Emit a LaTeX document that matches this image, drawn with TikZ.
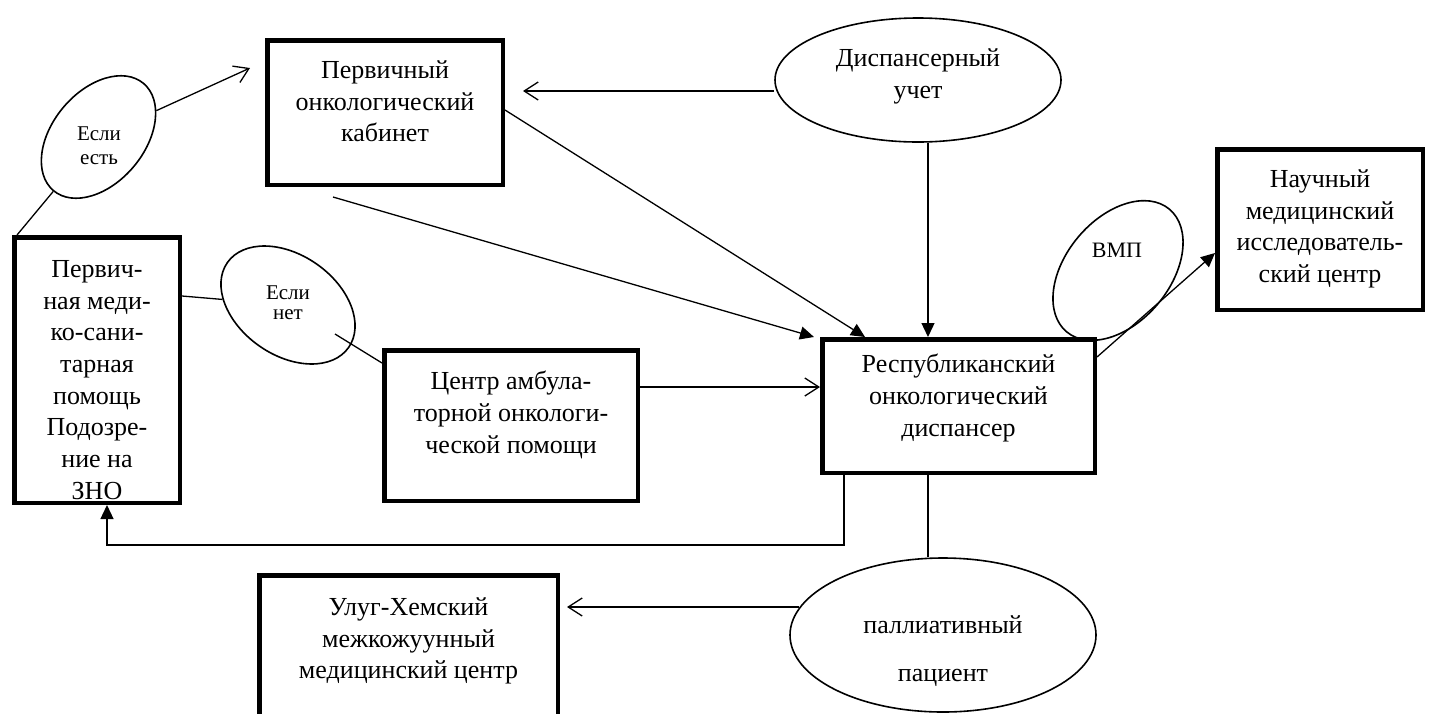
\documentclass[tikz,border=0pt]{standalone}
\usepackage{fontspec}
\setmainfont{Liberation Serif}
\usetikzlibrary{arrows.meta,shapes.geometric,calc}
\begin{document}
\begin{tikzpicture}[x=1pt,y=-1pt,
  box/.style={draw,rectangle,line width=4.5pt,inner sep=0pt},
  ell/.style={draw,ellipse,line width=1.6pt,inner sep=0pt},
  txt/.style={align=center,inner sep=0pt,font=\fontsize{26}{31.7}\selectfont},
  stxt/.style={align=center,inner sep=0pt,font=\fontsize{21}{24}\selectfont},
  conn/.style={line width=1.3pt},
  farr/.style={line width=1.3pt,-{Triangle[length=14pt,width=13pt]}},
  oarr/.style={line width=1.3pt,-{Straight Barb[length=14pt,width=18pt]}}]
\path[use as bounding box,clip] (0,0) rectangle (1431,713);
\fill[white] (0,0) rectangle (1431,713);

% boxes
\node[box,minimum width=235.5pt,minimum height=144.5pt] (pk) at (385,112.5) {};
\node[box,minimum width=165.5pt,minimum height=265.5pt] (pm) at (97,370) {};
\node[box,minimum width=253.5pt,minimum height=150.5pt] (ca) at (511,425.5) {};
\node[box,minimum width=272.5pt,minimum height=133.5pt] (rd) at (958.5,406) {};
\node[box,minimum width=205.5pt,minimum height=160.5pt] (nm) at (1320,229.5) {};
\node[box,minimum width=298.5pt,minimum height=222.5pt] (uh) at (408.5,686.5) {};

% ellipses
\node[ell,minimum width=286pt,minimum height=124pt] (ds) at (918,80) {};
\node[ell,minimum width=140pt,minimum height=92pt,rotate=50] (ee) at (98.5,137) {};
\node[ell,minimum width=148pt,minimum height=100pt,rotate=-35] (en) at (288,305) {};
\node[ell,minimum width=160pt,minimum height=104pt,rotate=50] (vmp) at (1118,270.5) {};
\node[ell,minimum width=306pt,minimum height=154pt] (pp) at (943,635) {};

% texts
\node[txt] (pkt) at (385,101.5) {Первичный\\онкологический\\кабинет};
\node[txt] (pmt) at (97,380) {Первич-\\ная меди-\\ко-сани-\\тарная\\помощь\\Подозре-\\ние на\\ЗНО};
\node[txt] (cat) at (511,415) {Центр амбула-\\торной онкологи-\\ческой помощи};
\node[txt] (rdt) at (958.5,398) {Республиканский\\онкологический\\диспансер};
\node[txt] (nmt) at (1320,229) {Научный\\медицинский\\исследователь-\\ский центр};
\node[txt] (uht) at (408.5,641) {Улуг-Хемский\\межкожуунный\\медицинский центр};
\node[txt,font=\fontsize{26}{32}\selectfont] (dst) at (918,76) {Диспансерный\\учет};
\node[txt,font=\fontsize{26}{48}\selectfont] (ppt) at (943,651) {паллиативный\\пациент};
\node[stxt] (eet) at (99,146) {Если\\есть};
\node[stxt,font=\fontsize{21}{20}\selectfont] (ent) at (288,303) {Если\\нет};
\node[txt,font=\fontsize{22}{26}\selectfont] (vmpt) at (1117,250) {ВМП};

% connectors
\draw[oarr] (ee) -- ([xshift=-15pt,yshift=44.5pt]pk.west);
\draw[conn] ([xshift=5pt]pm.north west) -- (ee);
\draw[conn] (pm.east |- 0,296) -- (en);
\draw[conn] ($(en.center)!0.5!(ca.west |- 0,363)$) -- (ca.west |- 0,363);
\draw[oarr] (ca.east |- 0,387) -- (rd.west |- 0,387);
\draw[oarr] (ds.west |- 0,91) -- ($(pk.east |- 0,91)+(18,0)$);
\draw[farr] (ds.south -| 928,0) -- (rd.north -| 928,0);
\draw[farr] (pk.east |- 0,110) -- (rd.north -| 865,0);
\draw[farr] ($(pk.south -| 333,0)+(0,10)$) -- ($(rd.north west)+(-6,0)$);
\draw[farr] (rd.east |- 0,357) -- (nm.west |- 0,253);
\coordinate (fb) at (844,545);
\draw[farr] (rd.south -| fb) -- (fb) -| (pm.south -| 107,0);
\draw[conn] (rd.south -| 928,0) -- (pp.north -| 928,0);
\draw[oarr] ($(pp.west |- 0,607)+(10,0)$) -- ($(uh.east |- 0,607)+(7,0)$);
\end{tikzpicture}
\end{document}
